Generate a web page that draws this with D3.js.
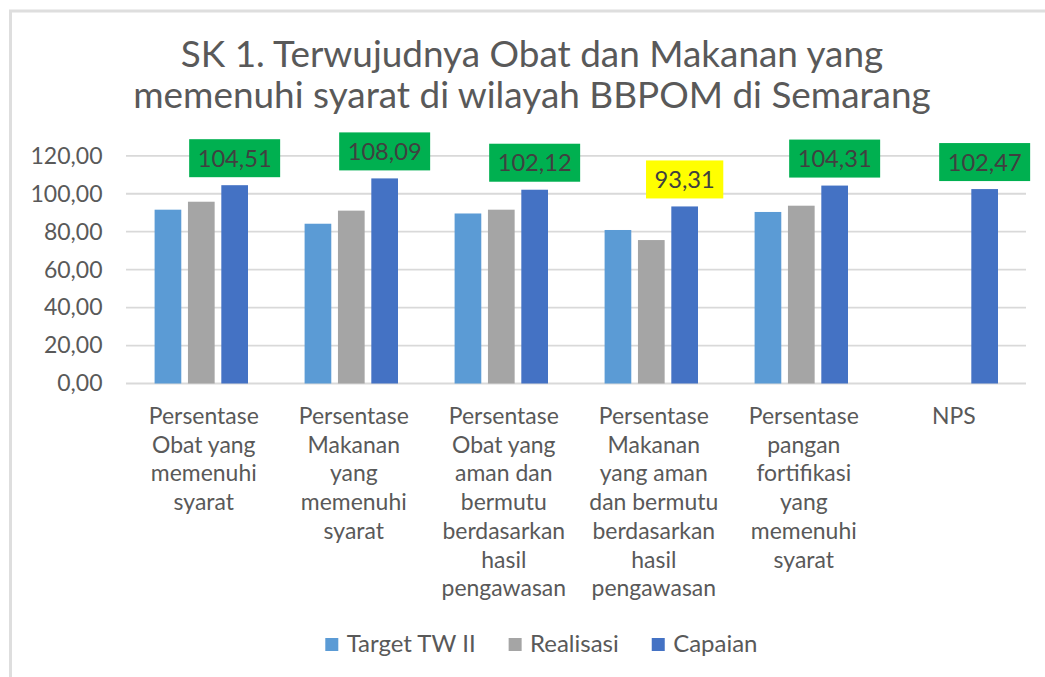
<!DOCTYPE html>
<html><head><meta charset="utf-8">
<script src="https://cdn.jsdelivr.net/npm/d3@7"></script>
<style>body{margin:0;background:#fff} svg text{font-family:Lato,'Open Sans',sans-serif}</style>
</head><body><svg id="c" width="1045" height="677"></svg>
<script>
// ---- data ----
const titleLines = ["SK 1. Terwujudnya Obat dan Makanan yang", "memenuhi syarat di wilayah BBPOM di Semarang"];
const categories = [
  "Persentase Obat yang memenuhi syarat",
  "Persentase Makanan yang memenuhi syarat",
  "Persentase Obat yang aman dan bermutu berdasarkan hasil pengawasan",
  "Persentase Makanan yang aman dan bermutu berdasarkan hasil pengawasan",
  "Persentase pangan fortifikasi yang memenuhi syarat",
  "NPS"
];
const categoryLines = [
  ["Persentase", "Obat yang", "memenuhi", "syarat"],
  ["Persentase", "Makanan", "yang", "memenuhi", "syarat"],
  ["Persentase", "Obat yang", "aman dan", "bermutu", "berdasarkan", "hasil", "pengawasan"],
  ["Persentase", "Makanan", "yang aman", "dan bermutu", "berdasarkan", "hasil", "pengawasan"],
  ["Persentase", "pangan", "fortifikasi", "yang", "memenuhi", "syarat"],
  ["NPS"]
];
const seriesNames = ["Target TW II", "Realisasi", "Capaian"];
const targetValues = [91.6, 84.2, 89.6, 80.9, 90.4, null];
const realisasiValues = [95.8, 91.1, 91.6, 75.6, 93.7, null];
const capaianValues = [104.51, 108.09, 102.12, 93.31, 104.31, 102.47];
const yTicks = [0, 20, 40, 60, 80, 100, 120];

// ---- setup ----
const svg = d3.select("#c");
const colors = {"Target TW II": "#5b9bd5", "Realisasi": "#a5a5a5", "Capaian": "#4472c4"};
const textColor = "#595959";
const fmt = v => d3.format(".2f")(v).replace(".", ",");

function fitSize(str, targetW) {
  const t = svg.append("text").style("font-size", "100px").text(str);
  const w = t.node().getComputedTextLength();
  t.remove();
  return 100 * targetW / w;
}

// frame
svg.append("line").attr("x1", 10.5).attr("x2", 10.5).attr("y1", 10).attr("y2", 677)
  .attr("stroke", "#dedede").attr("stroke-width", 3);
svg.append("line").attr("x1", 9).attr("x2", 1045).attr("y1", 11).attr("y2", 11)
  .attr("stroke", "#dedede").attr("stroke-width", 3);

// title
const titleSize = fitSize(titleLines[1], 798);
svg.selectAll("text.title").data(titleLines).join("text").attr("class", "title")
  .attr("x", 532).attr("y", (d, i) => 67 + i * 41)
  .attr("text-anchor", "middle").attr("fill", textColor)
  .style("font-size", titleSize + "px").text(d => d);

// scales
const x = d3.scaleBand().domain(categories).range([126, 1026]).padding(0);
const xs = d3.scaleBand().domain(seriesNames).range([-46.7, 46.7]).paddingInner(0.2);
const y = d3.scaleLinear().domain([0, 120]).range([383.5, 155.8]);

// gridlines
svg.append("g").selectAll("line").data(yTicks).join("line")
  .attr("x1", 126).attr("x2", 1026)
  .attr("y1", d => y(d)).attr("y2", d => y(d))
  .attr("stroke", "#d9d9d9").attr("stroke-width", 1.8);

// y axis
const tickSize = fitSize("120,00", 72);
const yAxis = svg.append("g").attr("transform", "translate(126,0)")
  .call(d3.axisLeft(y).tickValues(yTicks).tickSize(0).tickPadding(23.5).tickFormat(fmt));
yAxis.select(".domain").remove();
yAxis.selectAll("text").attr("fill", textColor).style("font-size", tickSize + "px")
  .style("font-family", "Lato,'Open Sans',sans-serif");

// bars
const seriesData = [targetValues, realisasiValues, capaianValues];
const barData = [];
categories.forEach((c, i) => seriesNames.forEach((s, j) => {
  const v = seriesData[j][i];
  if (v != null) barData.push({c, s, v});
}));
const cx = c => x(c) + x.bandwidth() / 2 + 0.3;
svg.append("g").selectAll("rect").data(barData).join("rect")
  .attr("x", d => cx(d.c) + xs(d.s))
  .attr("width", xs.bandwidth())
  .attr("y", d => y(d.v))
  .attr("height", d => y(0) - y(d.v))
  .attr("fill", d => colors[d.s]);

// data labels on Capaian
const labelSize = fitSize("104,51", 74);
const lg = svg.append("g");
categories.forEach((c, i) => {
  const v = capaianValues[i];
  const bx = cx(c) + xs("Capaian") + xs.bandwidth() / 2;
  const bottom = y(v) - 8;
  const g = lg.append("g");
  const t = g.append("text").attr("x", bx).attr("y", bottom - 10.4)
    .attr("text-anchor", "middle").attr("fill", "#404040")
    .style("font-size", labelSize + "px").text(fmt(v));
  const w = t.node().getComputedTextLength();
  g.insert("rect", "text").attr("x", bx - w / 2 - 8.5).attr("y", bottom - 38)
    .attr("width", w + 17).attr("height", 38)
    .attr("fill", v < 100 ? "#ffff00" : "#00b050");
});

// category labels
const catSize = fitSize("Persentase", 110);
categories.forEach((c, i) => {
  svg.append("text").attr("text-anchor", "middle").attr("fill", textColor)
    .style("font-size", catSize + "px")
    .selectAll("tspan").data(categoryLines[i]).join("tspan")
    .attr("x", cx(c) + 2.5).attr("y", (d, k) => 424 + k * 28.7).text(d => d);
});

// legend
const legSize = fitSize("Target TW II", 129);
let lx = 325.3;
seriesNames.forEach(s => {
  svg.append("rect").attr("x", lx).attr("y", 638).attr("width", 13).attr("height", 13)
    .attr("fill", colors[s]);
  const t = svg.append("text").attr("x", lx + 21.4).attr("y", 652).attr("fill", textColor)
    .style("font-size", legSize + "px").text(s);
  lx = lx + 21.4 + t.node().getComputedTextLength() + 33;
});
</script></body></html>
